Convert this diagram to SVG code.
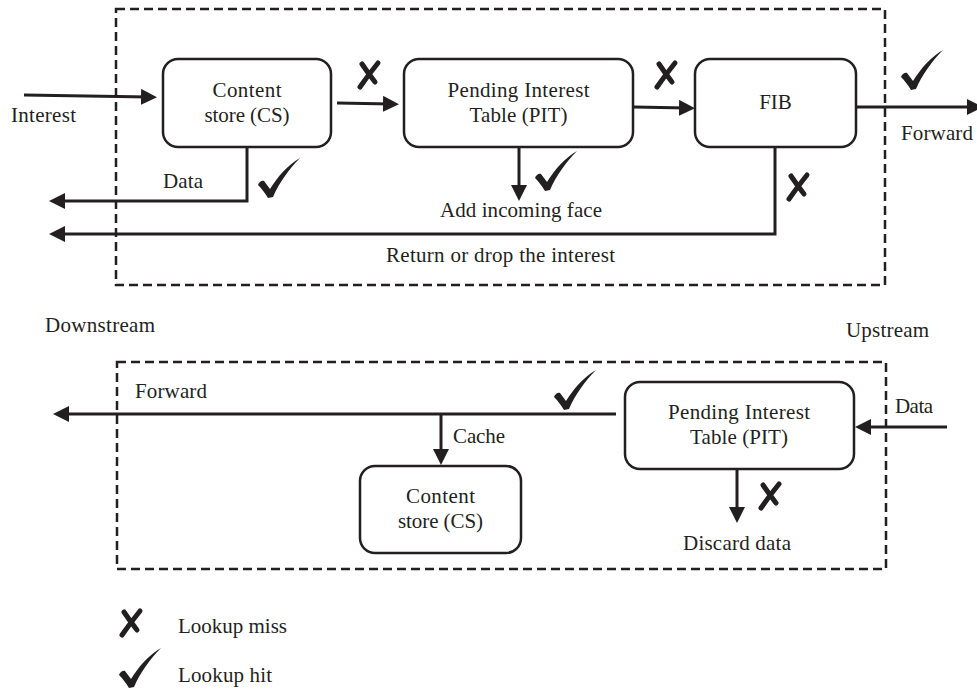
<svg xmlns="http://www.w3.org/2000/svg" xmlns:xlink="http://www.w3.org/1999/xlink" width="977" height="690" viewBox="0 0 977 690">
<style>
  .frame{fill:none;stroke:#231f20;stroke-width:2.5;stroke-dasharray:9 5}
  .box{fill:#fff;stroke:#231f20;stroke-width:2.5}
  .conn{fill:none;stroke:#231f20;stroke-width:3}
  .arr{marker-end:url(#ah)}
  text{font-family:"Liberation Serif","Times New Roman",serif;font-size:21px;fill:#231f20}
  .c{text-anchor:middle}
  .xm{fill:none;stroke:#231f20;stroke-width:5;stroke-linecap:round}
  .ck{fill:#231f20}
</style>
<defs>
  <marker id="ah" markerUnits="userSpaceOnUse" markerWidth="16" markerHeight="16" refX="8" refY="8" orient="auto" viewBox="0 0 16 16">
    <path d="M0,0 L16,8 L0,16 Z" fill="#231f20"/>
  </marker>
  <g id="miss">
    <path class="xm" d="M21,3 Q12,14 3,27"/>
    <path class="xm" d="M5,4 Q11,13 18,22"/>
  </g>
  <path id="hit" class="ck" d="M0,27 C1,24 4,22 6,23 L12,31 C20,18 30,7 42,0 C31,11 21,25 15,39 L10,40 C7,35 3,30 0,27 Z"/>
</defs>

<rect id="frame-top" class="frame" x="116" y="9" width="769" height="276"/>
<rect id="frame-bottom" class="frame" x="117" y="362" width="769" height="207"/>

<g id="connectors">
  <path class="conn arr" d="M24,95 L149,97"/>
  <path class="conn arr" d="M337,103 L391,104"/>
  <path class="conn arr" d="M634,107 L687,108"/>
  <path class="conn arr" d="M856,107 L975,107"/>
  <path class="conn arr" d="M247,147 V201 H57"/>
  <path class="conn arr" d="M519,147 V193"/>
  <path class="conn arr" d="M775,147 V234 H57"/>
  <path class="conn arr" d="M616,414 H61"/>
  <path class="conn arr" d="M441,414 V457"/>
  <path class="conn arr" d="M947,427 H863"/>
  <path class="conn arr" d="M737,469 V515"/>
</g>

<g id="cs-top">
  <rect class="box" x="163" y="59" width="168" height="88" rx="15"/>
  <text class="c" x="247" y="97" textLength="69">Content</text>
  <text class="c" x="247" y="122" textLength="85">store (CS)</text>
</g>
<g id="pit-top">
  <rect class="box" x="404" y="59" width="229" height="88" rx="15"/>
  <text class="c" x="518.5" y="97" textLength="142">Pending Interest</text>
  <text class="c" x="518.5" y="122" textLength="98">Table (PIT)</text>
</g>
<g id="fib">
  <rect class="box" x="695" y="59" width="161" height="88" rx="15"/>
  <text class="c" x="775.5" y="109">FIB</text>
</g>
<g id="pit-bottom">
  <rect class="box" x="625" y="382" width="229" height="87" rx="15"/>
  <text class="c" x="739" y="419" textLength="142">Pending Interest</text>
  <text class="c" x="739" y="444" textLength="98">Table (PIT)</text>
</g>
<g id="cs-bottom">
  <rect class="box" x="360" y="466" width="161" height="87" rx="15"/>
  <text class="c" x="440.5" y="503" textLength="69">Content</text>
  <text class="c" x="440.5" y="528" textLength="85">store (CS)</text>
</g>

<g id="labels">
  <text x="11" y="122" textLength="65">Interest</text>
  <text x="163" y="188" textLength="40">Data</text>
  <text x="440" y="217" textLength="162">Add incoming face</text>
  <text x="386" y="262" textLength="229">Return or drop the interest</text>
  <text x="901" y="140" textLength="72">Forward</text>
  <text x="45" y="332" textLength="110">Downstream</text>
  <text x="846" y="337" textLength="83">Upstream</text>
  <text x="135" y="398" textLength="72">Forward</text>
  <text x="453" y="443" textLength="52">Cache</text>
  <text x="895" y="413" textLength="38">Data</text>
  <text x="683" y="550" textLength="108">Discard data</text>
  <text x="178" y="633" textLength="109">Lookup miss</text>
  <text x="178" y="682" textLength="94">Lookup hit</text>
</g>

<g id="marks">
  <use xlink:href="#miss" href="#miss" x="357" y="60"/>
  <use xlink:href="#miss" href="#miss" x="654" y="60"/>
  <use xlink:href="#miss" href="#miss" x="786" y="172"/>
  <use xlink:href="#miss" href="#miss" x="758" y="481"/>
  <use xlink:href="#hit" href="#hit" x="901" y="50"/>
  <use xlink:href="#hit" href="#hit" x="258" y="158"/>
  <use xlink:href="#hit" href="#hit" x="535" y="151"/>
  <use xlink:href="#hit" href="#hit" x="554" y="370"/>
</g>

<g id="legend">
  <use xlink:href="#miss" href="#miss" x="119" y="608"/>
  <use xlink:href="#hit" href="#hit" x="119" y="648"/>
</g>
</svg>
